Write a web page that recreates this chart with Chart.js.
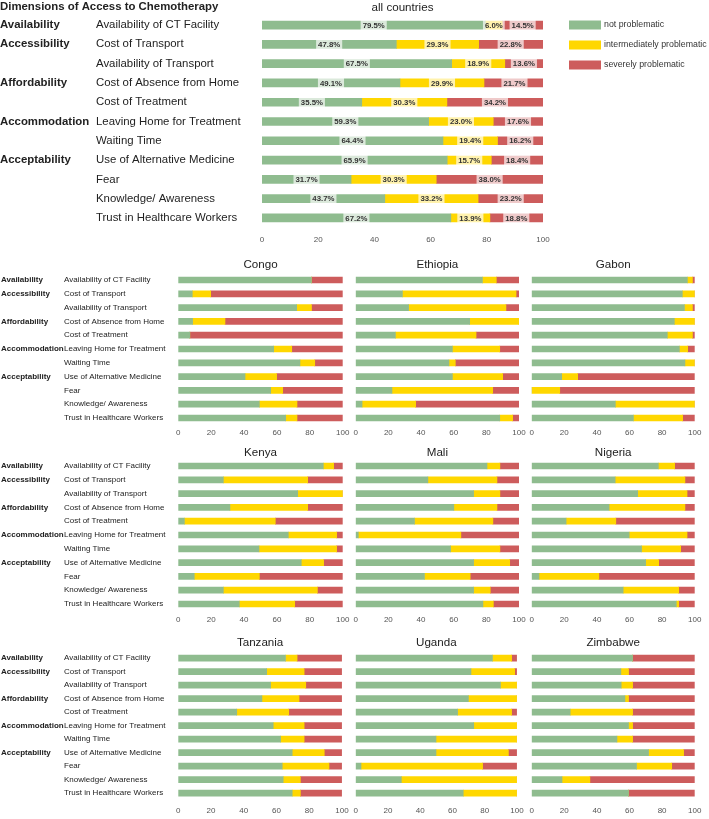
<!DOCTYPE html>
<html>
<head>
<meta charset="utf-8">
<script src="https://cdn.jsdelivr.net/npm/chart.js@4.4.1/dist/chart.umd.min.js"></script>
<style>
  body { margin: 0; background: #fff; width: 709px; height: 819px; position: relative; overflow: hidden; }
  canvas { position: absolute; }
</style>
</head>
<body>
<canvas id="main" width="709" height="250" style="left:0;top:0"></canvas>
<canvas id="congo" width="355" height="190" style="left:0;top:250px"></canvas>
<canvas id="ethiopia" width="190" height="190" style="left:340px;top:250px"></canvas>
<canvas id="gabon" width="189" height="190" style="left:520px;top:250px"></canvas>
<canvas id="kenya" width="355" height="190" style="left:0;top:440px"></canvas>
<canvas id="mali" width="190" height="190" style="left:340px;top:440px"></canvas>
<canvas id="nigeria" width="189" height="190" style="left:520px;top:440px"></canvas>
<canvas id="tanzania" width="355" height="189" style="left:0;top:630px"></canvas>
<canvas id="uganda" width="190" height="189" style="left:340px;top:630px"></canvas>
<canvas id="zimbabwe" width="189" height="189" style="left:520px;top:630px"></canvas>
<script>
const items = ['Availability of CT Facility', 'Cost of Transport', 'Availability of Transport',
  'Cost of Absence from Home', 'Cost of Treatment', 'Leaving Home for Treatment', 'Waiting Time',
  'Use of Alternative Medicine', 'Fear', 'Knowledge/ Awareness', 'Trust in Healthcare Workers'];
const dims = ['Availability', 'Accessibility', '', 'Affordability', '', 'Accommodation', '',
  'Acceptability', '', '', ''];
const seriesNames = ['not problematic', 'intermediately problematic', 'severely problematic'];
const colors = ['#8fbc8f', '#ffd700', '#cd5c5c'];
const xTicks = [0, 20, 40, 60, 80, 100];

// all countries (percent)
const allOk  = [79.5, 47.8, 67.5, 49.1, 35.5, 59.3, 64.4, 65.9, 31.7, 43.7, 67.2];
const allMid = [6.0, 29.3, 18.9, 29.9, 30.3, 23.0, 19.4, 15.7, 30.3, 33.2, 13.9];
const allBad = [14.5, 22.8, 13.6, 21.7, 34.2, 17.6, 16.2, 18.4, 38.0, 23.2, 18.8];

// per country rows: [not, intermediate, severe]
const congo    = [[81,0,19],[8.5,11.2,80.3],[72,9,19],[8.7,19.7,71.6],[7,0,93],[58,11,31],[74,9,17],[40.6,19.2,40.2],[56.2,7.3,36.5],[49.3,22.9,27.8],[65.3,6.9,27.8]];
const ethiopia = [[77.6,8.5,13.9],[28.6,69.6,1.8],[32.4,59.6,8],[69.8,30.2,0],[24.3,49.4,26.3],[59.2,29,11.8],[57.1,3.9,39],[59.2,30.8,10],[22.2,61.7,16.1],[3.9,32.8,63.3],[88.2,7.9,3.9]];
const gabon    = [[95.5,3.1,1.4],[92.4,7.6,0],[93.7,4.9,1.4],[87.5,12.5,0],[83.2,15.4,1.4],[90.6,5.1,4.3],[94,6,0],[18.4,9.8,71.8],[0,17.2,82.8],[51.3,48.7,0],[62.4,30.2,7.4]];
const kenya    = [[88.2,6.3,5.5],[27.4,51.3,21.3],[72.6,27.4,0],[31.4,47.3,21.3],[3.7,55.3,41],[66.9,29.4,3.7],[49.1,47.2,3.7],[74.8,13.6,11.6],[9.7,39.6,50.7],[27.4,57.2,15.4],[37.1,33.7,29.2]];
const mali     = [[80.4,7.9,11.7],[44.2,42.3,13.5],[72.2,16.1,11.7],[60.1,26.4,13.5],[36,48,16],[1.6,62.8,35.6],[58.1,30.2,11.7],[72.2,22.1,5.7],[42.1,28,29.9],[72.2,10.2,17.6],[77.9,6.4,15.7]];
const nigeria  = [[77.7,10,12.3],[51.2,42.8,6],[65,30.3,4.7],[47.5,46.5,6],[21.1,30.5,48.4],[59.8,35.5,4.7],[67.4,24,8.6],[69.9,8,22.1],[4.5,36.7,58.8],[56.1,34.1,9.8],[88.7,1.5,9.8]];
const tanzania = [[65.5,7.1,27.4],[54,22.9,23.1],[56.4,21.5,22.1],[51.1,22.7,26.2],[35.7,31.8,32.5],[58,18.9,23.1],[62.5,14.4,23.1],[69.6,19.6,10.8],[63.5,28.6,7.9],[64.1,10.5,25.4],[69.6,5,25.4]];
const uganda   = [[84.8,11.9,3.3],[71.5,27.1,1.4],[89.8,10.2,0],[69.9,30.1,0],[63.2,33.5,3.3],[73.2,26.8,0],[49.8,50.2,0],[49.8,44.9,5.3],[3.3,75.4,21.3],[28.3,71.7,0],[66.7,33.3,0]];
const zimbabwe = [[61.9,0,38.1],[54.7,4.7,40.6],[54.9,7,38.1],[57.2,2.2,40.6],[23.6,38.3,38.1],[59.4,2.5,38.1],[52.3,9.6,38.1],[71.7,21.5,6.8],[64.3,21.6,14.1],[18.6,17.1,64.3],[59.4,0,40.6]];

const FONT = '"Liberation Sans", Arial, sans-serif';

// left side labels (dimension + item), positioned by the y scale
const sideLabels = {
  id: 'sideLabels',
  afterDraw(chart, args, opts) {
    if (!opts.show) return;
    const ctx = chart.ctx, ys = chart.scales.y;
    ctx.save();
    ctx.textBaseline = 'middle';
    ctx.textAlign = 'left';
    ctx.fillStyle = '#222';
    items.forEach((it, i) => {
      const y = ys.getPixelForValue(i) + (opts.dy || 0);
      ctx.font = opts.size + 'px ' + FONT;
      ctx.fillText(it, opts.itemX, y);
      if (dims[i]) {
        ctx.font = 'bold ' + opts.size + 'px ' + FONT;
        ctx.fillText(dims[i], opts.dimX, y);
      }
    });
    if (opts.header) {
      ctx.font = 'bold ' + opts.size + 'px ' + FONT;
      ctx.fillText(opts.header, 0, opts.headerY);
    }
    ctx.restore();
  }
};

const panelTitle = {
  id: 'panelTitle',
  afterDraw(chart, args, opts) {
    const ctx = chart.ctx, a = chart.chartArea;
    ctx.save();
    ctx.font = opts.size + 'px ' + FONT;
    ctx.fillStyle = '#222';
    ctx.textAlign = 'center';
    ctx.textBaseline = 'middle';
    ctx.fillText(opts.text, (a.left + a.right) / 2 + (opts.dx || 0), opts.y);
    ctx.restore();
  }
};

const pctLabels = {
  id: 'pctLabels',
  afterDatasetsDraw(chart, args, opts) {
    if (!opts.show) return;
    const ctx = chart.ctx;
    ctx.save();
    ctx.font = 'bold 7.8px ' + FONT;
    ctx.textAlign = 'center';
    ctx.textBaseline = 'middle';
    chart.data.datasets.forEach((ds, di) => {
      chart.getDatasetMeta(di).data.forEach((bar, i) => {
        const p = bar.getProps(['x', 'base', 'y'], true);
        const cx = (p.x + p.base) / 2;
        const txt = ds.data[i].toFixed(1) + '%';
        const w = ctx.measureText(txt).width + 4;
        ctx.fillStyle = 'rgba(255,255,255,0.68)';
        ctx.fillRect(cx - w / 2, p.y - 5, w, 10);
        ctx.fillStyle = '#333';
        ctx.fillText(txt, cx, p.y + 0.5);
      });
    });
    ctx.restore();
  }
};

const sideLegend = {
  id: 'sideLegend',
  afterDraw(chart, args, opts) {
    if (!opts.show) return;
    const ctx = chart.ctx;
    ctx.save();
    ctx.font = '8.8px ' + FONT;
    ctx.textBaseline = 'middle';
    seriesNames.forEach((n, k) => {
      const y = 25 + k * 20;
      ctx.fillStyle = colors[k];
      ctx.fillRect(569, y - 4.5, 32, 9);
      ctx.fillStyle = '#333';
      ctx.fillText(n, 604, y);
    });
    ctx.restore();
  }
};

function build(id, cols, cfg) {
  const datasets = cols.map((vals, k) => ({
    label: seriesNames[k],
    data: vals,
    backgroundColor: colors[k],
    borderWidth: 0,
    barThickness: cfg.bar
  }));
  new Chart(document.getElementById(id), {
    type: 'bar',
    data: { labels: items, datasets },
    options: {
      indexAxis: 'y',
      responsive: false,
      animation: false,
      devicePixelRatio: 1,
      layout: { padding: cfg.pad },
      scales: {
        y: { stacked: true, display: false },
        x: {
          stacked: true, min: 0, max: 100,
          grid: { display: false, drawTicks: false },
          border: { display: false },
          afterBuildTicks: s => { s.ticks = xTicks.map(v => ({ value: v })); },
          afterFit: s => { s.height = cfg.axisH; },
          ticks: { font: { size: cfg.tick, family: FONT }, color: '#555', padding: cfg.tickPad, maxRotation: 0 }
        }
      },
      plugins: {
        legend: { display: false },
        tooltip: { enabled: false },
        sideLabels: cfg.side || { show: false },
        panelTitle: { text: cfg.title, y: cfg.titleY, size: 11.6 },
        pctLabels: { show: !!cfg.pct },
        sideLegend: { show: !!cfg.legend }
      }
    },
    plugins: [sideLabels, panelTitle, pctLabels, sideLegend]
  });
}

// main panel
build('main', [allOk, allMid, allBad], {
  bar: 8, axisH: 20, tick: 8, tickPad: 7,
  pad: { left: 262, right: 166, top: 15.4, bottom: 2.4 },
  title: 'all countries', titleY: 8, pct: true, legend: true,
  side: { show: true, size: 11.4, dimX: 0, itemX: 96, header: 'Dimensions of Access to Chemotherapy', headerY: 7 }
});

const split = rows => [rows.map(r => r[0]), rows.map(r => r[1]), rows.map(r => r[2])];

const rowsCfg = [
  { top: 23.1, bottom: 1.1, tickPad: 3.3, titleY: 15 },
  { top: 19.1, bottom: 5.1, tickPad: 4.3, titleY: 13 },
  { top: 21.3, bottom: 5.2, tickPad: 6.4, titleY: 13 }
];
const colsCfg = [
  { left: 178.3, right: 12.3 },
  { left: 15.7, right: 11 },
  { left: 11.7, right: 14.3 }
];
const panels = [
  ['congo', 'Congo', congo], ['ethiopia', 'Ethiopia', ethiopia], ['gabon', 'Gabon', gabon],
  ['kenya', 'Kenya', kenya], ['mali', 'Mali', mali], ['nigeria', 'Nigeria', nigeria],
  ['tanzania', 'Tanzania', tanzania], ['uganda', 'Uganda', uganda], ['zimbabwe', 'Zimbabwe', zimbabwe]
];
panels.forEach(([id, name, rows], n) => {
  const r = rowsCfg[Math.floor(n / 3)], c = colsCfg[n % 3];
  build(id, split(rows), {
    bar: 6, axisH: 14, tick: 8, tickPad: r.tickPad,
    pad: { left: c.left, right: c.right, top: r.top, bottom: r.bottom },
    title: name, titleY: r.titleY,
    side: n % 3 === 0 ? { show: true, size: 8, dimX: 1, itemX: 64 } : { show: false }
  });
});
</script>
</body>
</html>
